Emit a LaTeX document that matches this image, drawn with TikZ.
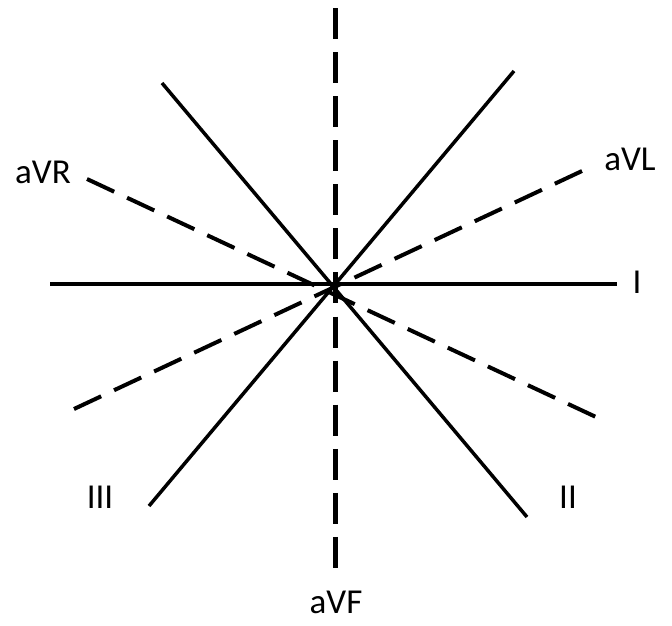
\documentclass[tikz,border=0pt]{standalone}
\usepackage{fontspec}
\setmainfont{Carlito}
\usepackage{tikz}
\usetikzlibrary{positioning, calc}

\tikzset{
  lead/.style={line width=3.5pt},
  auglead/.style={line width=4pt, dash pattern=on 30pt off 14.25pt},
  vflead/.style={line width=5pt, dash pattern=on 31pt off 13.08pt},
  leadname/.style={font=\fontsize{35}{40}\selectfont, inner sep=0pt}
}

\begin{document}
\begin{tikzpicture}[x=1pt, y=-1pt]
  \useasboundingbox (0,0) rectangle (672,625);

  % end points of the six leads
  \coordinate (Ia) at (50,284);   \coordinate (Ib) at (617,284);
  \coordinate (IIa) at (162,83);  \coordinate (IIb) at (527,517);
  \coordinate (IIIa) at (514,71); \coordinate (IIIb) at (149,506);
  \coordinate (aVRa) at (87,179); \coordinate (aVRb) at (596,417);
  \coordinate (aVLa) at (582,171);\coordinate (aVLb) at (74,409);
  \coordinate (aVFa) at (335,8);  \coordinate (aVFb) at (335,568);

  % limb leads
  \draw[lead] (Ia) -- (Ib);
  \draw[lead] (IIa) -- (IIb);
  \draw[lead] (IIIa) -- (IIIb);
  % augmented leads
  \draw[auglead] (aVRa) -- (aVRb);
  \draw[auglead] (aVLa) -- (aVLb);
  \draw[vflead] (aVFa) -- (aVFb);
  \fill (334,286) circle (4pt);

  % labels
  \node[leadname] (lI) at (637,282) {I};
  \node[leadname] (lII) at (568,497) {II};
  \node[leadname] (lIII) at (100,497) {III};
  \node[leadname] (laVR) at (43,172) {aVR};
  \node[leadname] (laVL) at (630,159) {aVL};
  \node[leadname, anchor=base] (laVF) at (336,613) {aVF};
\end{tikzpicture}
\end{document}
